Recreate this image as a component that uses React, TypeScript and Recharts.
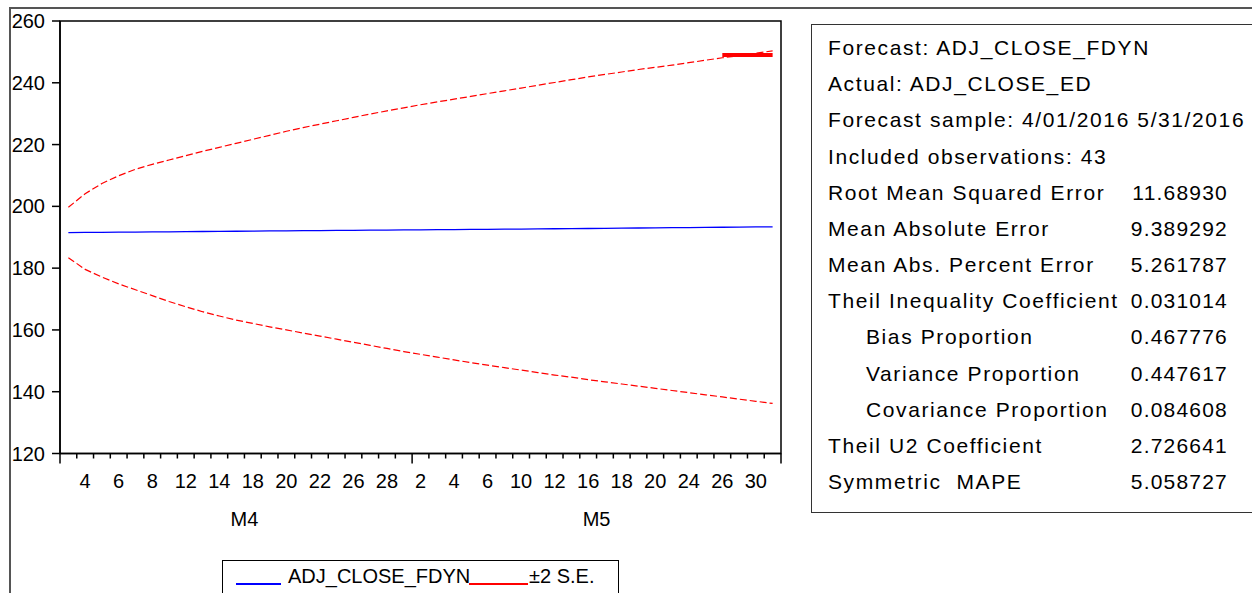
import React from "react";
import { LineChart, Line, XAxis, YAxis, ReferenceArea } from "recharts";

// Trading days in the forecast sample (April and May 2016)
const tradingDays = [
  1, 4, 5, 6, 7, 8, 11, 12, 13, 14, 15, 18, 19, 20, 21, 22, 25, 26, 27, 28, 29,
  2, 3, 4, 5, 6, 9, 10, 11, 12, 13, 16, 17, 18, 19, 20, 23, 24, 25, 26, 27, 30, 31,
];

const forecast = [
  191.5, 191.55, 191.59, 191.64, 191.68, 191.73, 191.77, 191.82, 191.86, 191.91,
  191.95, 192.0, 192.04, 192.08, 192.13, 192.17, 192.21, 192.25, 192.29, 192.33,
  192.37, 192.41, 192.45, 192.49, 192.53, 192.57, 192.61, 192.66, 192.7, 192.75,
  192.8, 192.84, 192.89, 192.94, 192.99, 193.04, 193.09, 193.14, 193.19, 193.24,
  193.29, 193.34, 193.39,
];

const upperBand = [
  199.7, 204.1, 207.4, 209.9, 212.0, 213.6, 215.0, 216.4, 217.8, 219.1,
  220.4, 221.7, 223.0, 224.3, 225.5, 226.6, 227.7, 228.8, 229.9, 230.9,
  231.9, 232.9, 233.8, 234.7, 235.6, 236.5, 237.4, 238.3, 239.2, 240.1,
  241.0, 241.9, 242.7, 243.5, 244.3, 245.0, 245.7, 246.5, 247.3, 248.1,
  248.8, 249.6, 250.3,
];

const lowerBand = [
  183.4, 179.6, 177.1, 174.9, 173.0, 171.1, 169.2, 167.5, 165.9, 164.5,
  163.2, 162.1, 161.0, 160.0, 159.0, 158.0, 157.0, 156.0, 155.0, 154.0,
  153.0, 152.1, 151.2, 150.3, 149.4, 148.6, 147.8, 147.0, 146.2, 145.4,
  144.7, 143.9, 143.2, 142.5, 141.8, 141.1, 140.4, 139.7, 139.0, 138.3,
  137.6, 136.9, 136.2,
];

// short solid stretch drawn over the end of the upper band
const capFrom = 39;
const capValue = 249;

const yTicks = [120, 140, 160, 180, 200, 220, 240, 260];
const monthStarts = [0, 21, 43];
const monthNames: Record<number, string> = { 11: "M4", 32: "M5" };

const stats: [string, string, boolean][] = [
  ["Forecast: ADJ_CLOSE_FDYN", "", false],
  ["Actual: ADJ_CLOSE_ED", "", false],
  ["Forecast sample: 4/01/2016 5/31/2016", "", false],
  ["Included observations: 43", "", false],
  ["Root Mean Squared Error", "11.68930", false],
  ["Mean Absolute Error", "9.389292", false],
  ["Mean Abs. Percent Error", "5.261787", false],
  ["Theil Inequality Coefficient", "0.031014", false],
  ["Bias Proportion", "0.467776", true],
  ["Variance Proportion", "0.447617", true],
  ["Covariance Proportion", "0.084608", true],
  ["Theil U2 Coefficient", "2.726641", false],
  ["Symmetric  MAPE", "5.058727", false],
];

const rows = forecast.map((f, i) => ({
  x: i + 0.5,
  forecast: f,
  upper: upperBand[i],
  lower: lowerBand[i],
  cap: i >= capFrom ? capValue : null,
}));

const FONT = '"Liberation Sans", Arial, sans-serif';
const PLOT_W = 721;
const BAND = PLOT_W / tradingDays.length;

function DayTick(props: any) {
  const { x, y, payload } = props;
  const v = payload.value as number;
  const long = monthStarts.includes(v);
  return (
    <g>
      <line x1={x} x2={x} y1={y} y2={y + (long ? 10 : 5)} stroke="#000" strokeWidth={1.5} />
      {v % 2 === 1 && v < tradingDays.length && (
        <text x={x + BAND / 2} y={y + 27} textAnchor="middle" dominantBaseline="central"
          fontSize={20} fontFamily={FONT} fill="#000">
          {tradingDays[v]}
        </text>
      )}
      {monthNames[v] && (
        <text x={x} y={y + 65} textAnchor="middle" dominantBaseline="central"
          fontSize={20} fontFamily={FONT} fill="#000">
          {monthNames[v]}
        </text>
      )}
    </g>
  );
}

export default function App() {
  const boundaries = Array.from({ length: tradingDays.length + 1 }, (_, i) => i);
  return (
    <div style={{ position: "relative", width: 1252, height: 593, overflow: "hidden", background: "#fff", fontFamily: FONT }}>
      <style>{`body{margin:0}`}</style>
      {/* outer frame */}
      <div style={{ position: "absolute", left: 9, top: 7, width: 1300, height: 700, borderTop: "2px solid #555", borderLeft: "2px solid #555" }} />

      <div style={{ position: "absolute", left: 0, top: 0 }}>
        <LineChart width={800} height={593} data={rows} margin={{ top: 21, right: 19, left: 10, bottom: 99.5 }}>
          <XAxis dataKey="x" type="number" domain={[0, tradingDays.length]} ticks={boundaries}
            interval={0} tickSize={0} tickMargin={0} tickLine={false} height={40}
            axisLine={{ stroke: "#000", strokeWidth: 1.5 }} tick={<DayTick />} />
          <YAxis domain={[120, 260]} ticks={yTicks} interval={0} width={50} tickSize={8} tickMargin={7}
            axisLine={{ stroke: "#000", strokeWidth: 1.5 }} tickLine={{ stroke: "#000", strokeWidth: 1.5 }}
            tick={{ fontSize: 20, fill: "#000", fontFamily: FONT }} />
          <ReferenceArea x1={0} x2={tradingDays.length} y1={120} y2={260} fill="none"
            stroke="#000" strokeWidth={1.5} ifOverflow="visible" />
          <Line dataKey="upper" stroke="#ff0000" strokeWidth={1.2} strokeDasharray="7 3" dot={false} isAnimationActive={false} />
          <Line dataKey="lower" stroke="#ff0000" strokeWidth={1.2} strokeDasharray="7 3" dot={false} isAnimationActive={false} />
          <Line dataKey="forecast" stroke="#0000ff" strokeWidth={1.3} dot={false} isAnimationActive={false} />
          <Line dataKey="cap" stroke="#ff0000" strokeWidth={4} dot={false} connectNulls={false} isAnimationActive={false} />
        </LineChart>
      </div>

      {/* forecast evaluation table */}
      <div style={{ position: "absolute", left: 811, top: 24, width: 480, height: 487, border: "1px solid #333" }}>
        {stats.map(([label, value, indent], k) => (
          <div key={k} style={{ position: "absolute", left: 0, top: 5 + k * 36.17, width: 416, height: 36, lineHeight: "36px", fontSize: 21, letterSpacing: 1.6, whiteSpace: "pre", color: "#000" }}>
            <span style={{ position: "absolute", left: indent ? 54 : 16 }}>{label}</span>
            {value && <span style={{ position: "absolute", right: 0, letterSpacing: 1.2 }}>{value}</span>}
          </div>
        ))}
      </div>

      {/* legend */}
      <div style={{ position: "absolute", left: 222, top: 560, width: 395, height: 50, border: "1px solid #000", fontSize: 20, color: "#000", whiteSpace: "pre" }}>
        <div style={{ position: "absolute", left: 13, top: 22, width: 45, height: 2, background: "#0000ff" }} />
        <span style={{ position: "absolute", left: 65, top: 4 }}>ADJ_CLOSE_FDYN</span>
        <div style={{ position: "absolute", left: 246, top: 22, width: 59, height: 2, background: "#ff0000" }} />
        <span style={{ position: "absolute", left: 306, top: 4 }}>±2 S.E.</span>
      </div>
    </div>
  );
}
